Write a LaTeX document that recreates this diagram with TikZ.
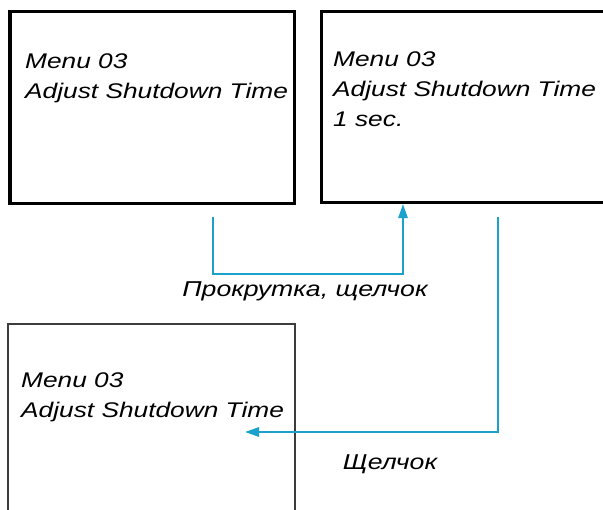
\documentclass[tikz,border=0pt]{standalone}
\usepackage{fontspec}
\newfontfamily\menufont{Liberation Sans}[FakeStretch=1.24]
\usetikzlibrary{arrows.meta}
\definecolor{flowcyan}{RGB}{27,161,204}
\definecolor{screengray}{RGB}{60,60,60}
\tikzset{
  screen/.style={draw=black, line width=3.3pt, rectangle, inner sep=0pt},
  thinscreen/.style={draw=screengray, line width=2pt, rectangle, inner sep=0pt},
  menutext/.style={font=\menufont\itshape\fontsize{21.2}{30}\selectfont, align=left, inner sep=0pt, anchor=base west},
  flowlabel/.style={font=\menufont\itshape\fontsize{21.5}{30}\selectfont, inner sep=0pt, anchor=base},
  flow/.style={draw=flowcyan, line width=1.5pt, -{Triangle[length=14pt,width=9.5pt]}},
}
\begin{document}
\begin{tikzpicture}[x=1pt,y=1pt]
  \useasboundingbox (0,0) rectangle (603,-510);
  \clip (0,0) rectangle (603,-510);

  % menu screens
  \node[screen, minimum width=284.3pt, minimum height=191.8pt] (b1) at (152.15,-107.4) {};
  \node[screen, minimum width=288.3pt, minimum height=190.8pt] (b2) at (465.85,-107.1) {};
  \node[thinscreen, minimum width=286.7pt, minimum height=196pt] (b3) at (151.65,-422) {};

  % screen contents (anchored on the baseline of the last line)
  \node[menutext] (t1) at (25,-99) {Menu 03\\Adjust Shutdown Time};
  \node[menutext] (t2) at (333,-127) {Menu 03\\Adjust Shutdown Time\\1 sec.};
  \node[menutext] (t3) at (21,-418) {Menu 03\\Adjust Shutdown Time};

  % transitions
  \coordinate (s1) at (213,-217);
  \coordinate (m1) at (403,-274);
  \draw[flow] (s1) |- (m1) -- (b2.south -| m1);
  \coordinate (s2) at (498,-217);
  \coordinate (e2) at (245,-432);
  \draw[flow] (s2) |- (e2);

  % transition labels
  \node[flowlabel] (l1) at (305,-297) {Прокрутка, щелчок};
  \node[flowlabel] (l2) at (390,-470) {Щелчок};
\end{tikzpicture}
\end{document}
